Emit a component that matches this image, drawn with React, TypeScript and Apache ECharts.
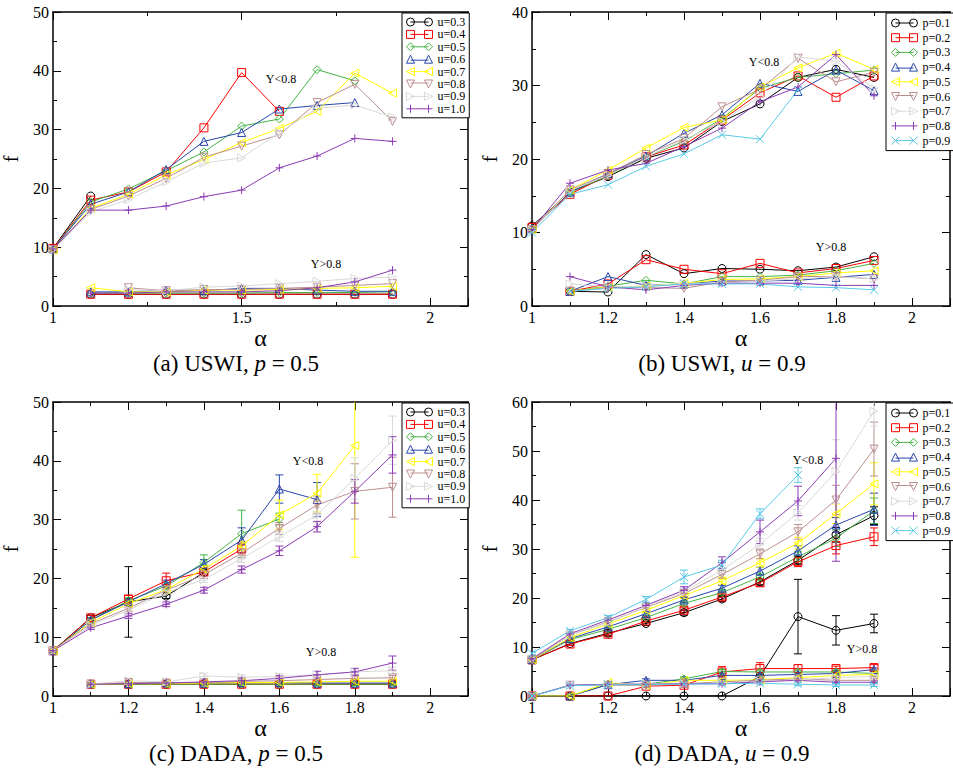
import React, { useEffect, useRef } from 'react';
import * as echarts from 'echarts';

const FONT = "'Liberation Serif', 'Times New Roman', serif";

const alphas = [1.0, 1.1, 1.2, 1.3, 1.4, 1.5, 1.6, 1.7, 1.8, 1.9];
const uLabels = ['u=0.3', 'u=0.4', 'u=0.5', 'u=0.6', 'u=0.7', 'u=0.8', 'u=0.9', 'u=1.0'];
const pLabels = ['p=0.1', 'p=0.2', 'p=0.3', 'p=0.4', 'p=0.5', 'p=0.6', 'p=0.7', 'p=0.8', 'p=0.9'];
const yMaxes = [50, 40, 50, 60];
const xIntervals = [0.5, 0.2, 0.2, 0.2];

const colors = ['#000000', '#ff0000', '#44b444', '#2846aa', '#ffff00', '#bc8f8f', '#d9d9d9', '#8c3cb4', '#5ac8e6'];

// (a) USWI, p = 0.5 — Y<0.8 branch
const aUpper: (number | null)[][] = [
  [9.8, 18.7, null, null, null, null, null, null, null, null],
  [9.8, 18.0, 19.4, 22.8, 30.3, 39.7, 33.1, null, null, null],
  [9.7, 17.7, 19.9, 23.0, 26.2, 30.6, 31.8, 40.2, 38.3, null],
  [9.7, 17.3, 19.4, 23.2, 28.0, 29.5, 33.5, 34.1, 34.6, null],
  [9.5, 16.6, 19.0, 22.3, 24.9, 27.8, 30.2, 33.1, 39.6, 36.2],
  [9.6, 16.4, 18.7, 21.7, 25.3, 27.2, 29.1, 34.6, 37.7, 31.4],
  [9.6, 16.0, 18.1, 21.1, 24.3, 25.2, 29.5, 33.6, 34.2, 32.1],
  [9.7, 16.3, 16.3, 17.0, 18.6, 19.7, 23.5, 25.5, 28.5, 28.0],
];
// (a) Y>0.8 branch
const aLower: (number | null)[][] = [
  [null, 2.0, 2.0, 2.0, 2.0, 2.0, 2.0, 2.0, 2.0, 2.0],
  [null, 2.0, 2.0, 2.0, 2.0, 2.0, 2.0, 2.0, 2.0, 2.0],
  [null, 2.2, 2.2, 2.2, 2.2, 2.2, 2.3, 2.3, 2.3, 2.4],
  [null, 2.4, 2.4, 2.7, 2.6, 3.0, 3.0, 2.7, 2.5, 2.5],
  [null, 3.1, 2.4, 2.4, 2.7, 2.7, 2.8, 3.0, 3.1, 3.35],
  [null, null, 3.1, 2.6, 2.8, 2.8, 3.0, 3.2, 3.5, 3.8],
  [null, null, 2.8, 2.6, 3.2, 3.4, 3.8, 4.2, 4.7, 4.9],
  [null, 2.2, 2.2, 2.4, 2.4, 2.4, 2.6, 3.1, 4.1, 6.1],
];

// (b) USWI, u = 0.9
const bUpper: (number | null)[][] = [
  [10.9, 15.5, 17.6, 20.1, 21.5, 25.1, 27.5, 31.1, 32.2, 31.1],
  [10.7, 15.2, 17.8, 20.3, 21.9, 25.3, 29.0, 31.3, 28.4, 31.3],
  [10.5, 15.5, 17.7, 20.3, 22.4, 25.5, 29.6, 31.1, 31.6, 32.1],
  [10.5, 15.5, 18.0, 20.4, 23.5, 26.0, 30.3, 29.2, 32.1, 29.3],
  [10.4, 15.8, 18.5, 21.5, 24.3, 25.3, 29.8, 32.4, 34.4, 32.2],
  [10.4, 15.8, 18.0, 20.6, 22.8, 27.1, 29.5, 33.7, 30.5, 31.8],
  [10.3, 15.7, 17.8, 20.3, 22.6, 25.1, 28.5, 33.9, 33.3, 29.6],
  [10.4, 16.7, 18.5, 19.4, 21.7, 24.2, 27.8, 29.8, 34.2, 28.6],
  [10.0, 15.2, 16.5, 19.0, 20.7, 23.3, 22.7, 29.4, null, null],
];
const bLower: (number | null)[][] = [
  [null, 2.0, 1.9, 7.0, 4.4, 5.1, 5.0, 4.8, 5.3, 6.7],
  [null, 2.0, 3.0, 6.3, 5.0, 4.4, 5.8, 4.5, 5.1, 6.2],
  [null, 2.0, 2.7, 3.5, 3.0, 4.0, 4.0, 4.2, 4.8, 5.8],
  [null, 2.0, 4.0, 2.8, 3.0, 3.4, 3.4, 3.5, 3.9, 4.3],
  [null, 2.0, 2.6, 2.7, 3.1, 3.6, 3.7, 4.0, 4.5, 4.8],
  [null, 2.0, 2.5, 2.5, 2.4, 3.3, 3.5, 4.0, 4.0, 3.7],
  [null, 3.0, 2.6, 2.7, 3.1, 3.1, 3.4, 3.7, 4.0, 3.7],
  [null, 4.0, 2.6, 2.2, 2.8, 3.1, 3.1, 3.1, 2.8, 2.8],
  [null, 2.0, 2.4, 2.6, 3.0, 3.0, 3.0, 2.6, 2.5, 2.2],
];

// (c) DADA, p = 0.5
const cUpper: (number | null)[][] = [
  [7.7, 13.3, 16.0, 17.0, 21.0, null, null, null, null, null],
  [7.7, 13.3, 16.5, 19.6, 21.1, 25.0, null, null, null, null],
  [7.7, 12.9, 16.2, 18.7, 22.7, 27.6, 30.1, null, null, null],
  [7.7, 12.9, 16.0, 19.1, 22.4, 26.5, 35.2, 33.4, null, null],
  [7.7, 12.5, 15.7, 18.1, 21.6, 25.5, 30.8, 34.5, 42.6, null],
  [7.7, 12.3, 14.9, 18.0, 20.6, 24.3, 28.5, 32.5, 34.8, 35.5],
  [7.7, 12.0, 14.6, 17.6, 19.8, 23.4, 27.1, 30.8, 37.0, 43.5],
  [7.7, 11.6, 13.6, 15.6, 18.0, 21.5, 24.7, 28.8, 34.8, 41.0],
];
const cUpperErr: number[][] = [
  [0.2, 0.4, 6.0, 0.4, 0.5, 0, 0, 0, 0, 0],
  [0.2, 0.4, 0.6, 1.3, 0.5, 1.0, 0, 0, 0, 0],
  [0.2, 0.4, 0.5, 0.6, 1.3, 4.0, 1.0, 0, 0, 0],
  [0.2, 0.4, 0.5, 0.6, 0.8, 2.1, 2.4, 2.9, 0, 0],
  [0.2, 0.4, 0.5, 0.6, 0.6, 0.8, 2.5, 3.2, 19.0, 0],
  [0.2, 0.4, 0.5, 0.5, 0.6, 0.8, 1.0, 1.5, 4.7, 5.1],
  [0.2, 0.4, 0.4, 0.5, 0.5, 0.7, 0.8, 1.2, 3.5, 4.1],
  [0.2, 0.3, 0.4, 0.4, 0.5, 0.6, 0.8, 0.9, 2.0, 3.1],
];
const cLower: (number | null)[][] = [
  [null, 2.0, 2.0, 2.0, 2.0, 2.0, 2.0, 2.0, 2.0, 2.0],
  [null, 2.0, 2.0, 2.0, 2.0, 2.0, 2.0, 2.0, 2.0, 2.0],
  [null, 2.0, 2.0, 2.0, 2.0, 2.0, 2.0, 2.0, 2.0, 2.0],
  [null, 2.1, 2.1, 2.3, 2.2, 2.3, 2.3, 2.2, 2.2, 2.2],
  [null, 2.0, 2.1, 2.1, 2.2, 2.3, 2.3, 2.4, 2.5, 2.5],
  [null, 2.0, 2.3, 2.2, 2.3, 2.5, 2.6, 2.8, 3.0, 3.1],
  [null, 2.0, 2.6, 2.4, 3.4, 3.2, 3.3, 3.6, 4.1, 4.3],
  [null, 2.0, 2.1, 2.2, 2.4, 2.6, 3.0, 3.6, 4.1, 5.6],
];
const cLowerErr: number[][] = [
  [0, 0.2, 0.2, 0.2, 0.2, 0.2, 0.2, 0.2, 0.2, 0.2],
  [0, 0.2, 0.2, 0.2, 0.2, 0.2, 0.2, 0.2, 0.2, 0.2],
  [0, 0.2, 0.2, 0.2, 0.2, 0.2, 0.2, 0.2, 0.2, 0.2],
  [0, 0.2, 0.2, 0.2, 0.2, 0.2, 0.2, 0.2, 0.2, 0.2],
  [0, 0.2, 0.2, 0.2, 0.2, 0.3, 0.3, 0.3, 0.3, 0.3],
  [0, 0.2, 0.3, 0.3, 0.3, 0.3, 0.3, 0.4, 0.4, 0.4],
  [0, 0.2, 0.3, 0.3, 0.5, 0.4, 0.5, 0.6, 0.5, 0.6],
  [0, 0.2, 0.3, 0.3, 0.4, 0.4, 0.5, 0.6, 0.6, 1.2],
];

// (d) DADA, u = 0.9
const dUpper: (number | null)[][] = [
  [7.4, 10.7, 12.8, 14.8, 17.0, 19.8, 23.3, 27.7, 32.9, 36.8],
  [7.4, 10.6, 12.6, 15.3, 17.5, 20.2, 23.1, 27.4, 30.7, 32.5],
  [7.4, 11.5, 13.6, 16.0, 18.9, 21.1, 24.3, 28.4, 32.2, 37.8],
  [7.4, 11.7, 14.1, 16.8, 19.6, 22.0, 25.5, 29.6, 34.9, 38.1],
  [7.4, 11.9, 14.7, 17.5, 20.5, 23.5, 27.2, 31.2, 37.2, 43.3],
  [7.4, 12.4, 15.1, 18.1, 20.9, 24.8, 29.0, 33.5, 40.0, 50.4],
  [7.6, 12.4, 15.0, 18.2, 21.3, 25.7, 31.0, 37.4, 45.8, 58.1],
  [7.6, 12.7, 15.5, 18.5, 21.6, 27.2, 33.5, 39.8, 48.5, null],
  [8.7, 13.3, 16.0, 19.7, 24.3, 26.7, 37.2, 45.1, null, null],
];
const dUpperErr: number[][] = [
  [0.2, 0.3, 0.4, 0.4, 0.5, 0.5, 0.6, 0.8, 1.5, 1.8],
  [0.2, 0.3, 0.4, 0.4, 0.5, 0.6, 0.7, 1.0, 1.7, 1.8],
  [0.2, 0.3, 0.4, 0.4, 0.5, 0.6, 0.8, 1.0, 1.7, 2.6],
  [0.2, 0.3, 0.4, 0.5, 0.5, 0.6, 0.8, 1.0, 1.5, 3.3],
  [0.2, 0.3, 0.4, 0.5, 0.6, 0.7, 0.9, 1.2, 2.0, 4.3],
  [0.2, 0.3, 0.4, 0.5, 0.6, 0.8, 1.0, 1.5, 3.0, 5.5],
  [0.2, 0.3, 0.4, 0.5, 0.7, 0.9, 1.2, 1.5, 6.5, 3.0],
  [0.2, 0.3, 0.4, 0.5, 0.7, 1.2, 2.4, 3.0, 21.0, 0],
  [0.2, 0.3, 0.4, 0.6, 1.4, 1.0, 1.0, 1.5, 0, 0],
];
const dLower: (number | null)[][] = [
  [0, 0, 0, 0, 0, 0, 4.0, 16.2, 13.4, 14.8],
  [0, 0, 0, 2.0, 2.2, 4.9, 5.6, 5.6, 5.6, 5.8],
  [0, 0, 2.4, 2.4, 3.5, 5.0, 4.9, 4.9, 4.9, 4.6],
  [0, 0, 2.3, 3.2, 3.2, 4.2, 4.2, 4.4, 4.6, 5.4],
  [0, 0, 2.7, 2.2, 3.2, 3.2, 3.3, 3.75, 4.2, 4.4],
  [0, 2.2, 2.2, 2.2, 2.5, 2.9, 3.2, 3.5, 3.2, 3.2],
  [0, 2.2, 2.4, 2.5, 2.5, 2.6, 3.0, 3.3, 3.75, 4.0],
  [0, 2.2, 2.4, 2.4, 2.5, 2.5, 2.9, 3.2, 2.8, 2.8],
  [0, 2.1, 2.3, 2.3, 2.4, 2.5, 2.6, 2.4, 2.25, 2.25],
];
const dLowerErr: number[][] = [
  [0, 0, 0, 0, 0, 0, 0.4, 7.6, 3.0, 1.9],
  [0, 0, 0, 0.3, 0.4, 1.1, 1.2, 0.8, 0.5, 0.6],
  [0, 0, 0.3, 0.3, 0.4, 0.4, 0.4, 0.4, 0.4, 0.4],
  [0, 0, 0.3, 0.3, 0.3, 0.3, 0.3, 0.3, 0.3, 0.3],
  [0, 0, 0.3, 0.3, 0.3, 0.3, 0.3, 0.3, 0.3, 0.3],
  [0, 0.2, 0.3, 0.3, 0.3, 0.3, 0.3, 0.3, 0.3, 0.3],
  [0, 0.2, 0.3, 0.3, 0.3, 0.3, 0.3, 0.3, 0.3, 0.3],
  [0, 0.2, 0.3, 0.3, 0.3, 0.3, 0.3, 0.3, 0.3, 0.3],
  [0, 0.2, 0.3, 0.3, 0.3, 0.3, 0.3, 0.3, 0.3, 0.3],
];

const captions = [
  { pre: '(a) USWI, ', v: 'p', post: ' = 0.5' },
  { pre: '(b) USWI, ', v: 'u', post: ' = 0.9' },
  { pre: '(c) DADA, ', v: 'p', post: ' = 0.5' },
  { pre: '(d) DADA, ', v: 'u', post: ' = 0.9' },
];

const symbols = [
  'circle',
  'rect',
  'diamond',
  'triangle',
  'path://M8,0L0,4L8,8Z',
  'path://M0,0L8,0L4,8Z',
  'path://M0,0L8,4L0,8Z',
  'path://M0,4H8M4,0V8',
  'path://M0,0L8,8M0,8L8,0',
];
const legendIcons = [
  'path://M0,4A4,4 0 1 1 8,4A4,4 0 1 1 0,4Z M4,4H22 M18,4A4,4 0 1 1 26,4A4,4 0 1 1 18,4Z',
  'path://M0,0H8V8H0Z M4,4H22 M18,0H26V8H18Z',
  'path://M0,4L4,0L8,4L4,8Z M4,4H22 M18,4L22,0L26,4L22,8Z',
  'path://M0,8L4,0L8,8Z M4,5H22 M18,8L22,0L26,8Z',
  'path://M8,0L0,4L8,8Z M4,4H22 M26,0L18,4L26,8Z',
  'path://M0,0L8,0L4,8Z M4,3H22 M18,0L26,0L22,8Z',
  'path://M0,0L8,4L0,8Z M4,4H22 M18,0L26,4L18,8Z',
  'path://M0,4H26 M4,0V8 M22,0V8',
  'path://M0,0L8,8 M0,8L8,0 M4,4H22 M18,0L26,8 M18,8L26,0',
];

const grids = [
  { left: 47, top: 12, width: 421, height: 294 },
  { left: 532, top: 12, width: 420, height: 294 },
  { left: 47, top: 402, width: 421, height: 294 },
  { left: 532, top: 402, width: 420, height: 294 },
];

function fmtX(v: number) {
  if (v > 2.05) return '';
  return String(parseFloat(v.toFixed(2)));
}

function xAxis(g: number, pos: 'bottom' | 'top') {
  const bottom = pos === 'bottom';
  return {
    type: 'value',
    gridIndex: g,
    position: pos,
    min: 1,
    max: 2.1,
    interval: xIntervals[g],
    axisLine: { show: true, onZero: false, lineStyle: { color: '#000', width: 1.5 } },
    axisTick: { show: true, inside: true, length: 8, lineStyle: { color: '#000', width: 1 } },
    minorTick: { show: true, splitNumber: 2, length: 4, lineStyle: { color: '#000', width: 1 } },
    splitLine: { show: false },
    minorSplitLine: { show: false },
    axisLabel: bottom
      ? { show: true, margin: 3, fontSize: 16, color: '#000', fontFamily: FONT, formatter: fmtX }
      : { show: false },
    name: bottom ? 'α' : '',
    nameLocation: 'middle',
    nameGap: 14,
    nameTextStyle: { fontSize: 24, color: '#000', fontFamily: FONT },
  };
}

function yAxis(g: number, pos: 'left' | 'right') {
  const left = pos === 'left';
  return {
    type: 'value',
    gridIndex: g,
    position: pos,
    min: 0,
    max: yMaxes[g],
    interval: 10,
    axisLine: { show: true, onZero: false, lineStyle: { color: '#000', width: 1.5 } },
    axisTick: { show: true, inside: true, length: 8, lineStyle: { color: '#000', width: 1 } },
    minorTick: { show: true, splitNumber: 2, length: 4, lineStyle: { color: '#000', width: 1 } },
    splitLine: { show: false },
    minorSplitLine: { show: false },
    axisLabel: left
      ? { show: true, margin: 4, fontSize: 16, color: '#000', fontFamily: FONT }
      : { show: false },
    name: left ? 'f' : '',
    nameLocation: 'middle',
    nameGap: 32,
    nameRotate: 90,
    nameTextStyle: { fontSize: 20, color: '#000', fontFamily: FONT },
  };
}

function lineSeries(g: number, labels: string[], rows: (number | null)[][]) {
  return rows.map((row, i) => ({
    type: 'line',
    name: labels[i],
    xAxisIndex: 2 * g,
    yAxisIndex: 2 * g,
    data: alphas.map((a, k) => [a, row[k]]).filter((d) => d[1] !== null),
    symbol: symbols[i],
    symbolSize: 8,
    showSymbol: true,
    showAllSymbol: true,
    lineStyle: { color: colors[i], width: 1 },
    itemStyle: { color: 'rgba(0,0,0,0)', borderColor: colors[i], borderWidth: 1 },
    emphasis: { disabled: true },
    silent: true,
  }));
}

function errSeries(g: number, rows: (number | null)[][], errs: number[][]) {
  return rows.map((row, i) => {
    const color = colors[i];
    const data: number[][] = [];
    alphas.forEach((a, k) => {
      const v = row[k];
      const e = errs[i][k];
      if (v !== null && e > 0) data.push([a, v - e, v + e]);
    });
    return {
      type: 'custom',
      xAxisIndex: 2 * g,
      yAxisIndex: 2 * g,
      clip: true,
      silent: true,
      data,
      encode: { x: 0, y: [1, 2] },
      renderItem: (params: any, api: any) => {
        const x = api.value(0);
        const top = api.coord([x, api.value(2)]);
        const bot = api.coord([x, api.value(1)]);
        const w = 4;
        const st = { stroke: color, lineWidth: 1 };
        return {
          type: 'group',
          children: [
            { type: 'line', shape: { x1: top[0], y1: top[1], x2: bot[0], y2: bot[1] }, style: st },
            { type: 'line', shape: { x1: top[0] - w, y1: top[1], x2: top[0] + w, y2: top[1] }, style: st },
            { type: 'line', shape: { x1: bot[0] - w, y1: bot[1], x2: bot[0] + w, y2: bot[1] }, style: st },
          ],
        };
      },
    };
  });
}

function legend(labels: string[], left: number, top: number, gap: number, pad: number[]) {
  return {
    orient: 'vertical',
    left,
    top,
    padding: pad,
    itemGap: gap,
    itemWidth: 26,
    itemHeight: 8,
    backgroundColor: '#fff',
    borderColor: '#000',
    borderWidth: 1,
    borderRadius: 0,
    selectedMode: false,
    z: 20,
    textStyle: { fontSize: 12, lineHeight: 12, color: '#000', fontFamily: FONT },
    data: labels.map((n, i) => ({
      name: n,
      icon: legendIcons[i],
      itemStyle: { color: 'rgba(0,0,0,0)', borderColor: colors[i], borderWidth: 1 },
    })),
  };
}

const annotations = [
  { t: 'Y<0.8', x: 281, y: 79 },
  { t: 'Y>0.8', x: 326, y: 264 },
  { t: 'Y<0.8', x: 764, y: 62 },
  { t: 'Y>0.8', x: 831, y: 247 },
  { t: 'Y<0.8', x: 308, y: 461 },
  { t: 'Y>0.8', x: 321, y: 652 },
  { t: 'Y<0.8', x: 808, y: 460 },
  { t: 'Y>0.8', x: 862, y: 649 },
];
const captionPos = [
  { x: 236, y: 363 },
  { x: 722, y: 363 },
  { x: 236, y: 753 },
  { x: 722, y: 753 },
];

function buildOption() {
  const xAxes: any[] = [];
  const yAxes: any[] = [];
  for (let g = 0; g < 4; g++) {
    xAxes.push(xAxis(g, 'bottom'), xAxis(g, 'top'));
    yAxes.push(yAxis(g, 'left'), yAxis(g, 'right'));
  }
  const series: any[] = [
    ...lineSeries(0, uLabels, aUpper),
    ...lineSeries(0, uLabels, aLower),
    ...lineSeries(1, pLabels, bUpper),
    ...lineSeries(1, pLabels, bLower),
    ...errSeries(2, cUpper, cUpperErr),
    ...errSeries(2, cLower, cLowerErr),
    ...lineSeries(2, uLabels, cUpper),
    ...lineSeries(2, uLabels, cLower),
    ...errSeries(3, dUpper, dUpperErr),
    ...errSeries(3, dLower, dLowerErr),
    ...lineSeries(3, pLabels, dUpper),
    ...lineSeries(3, pLabels, dLower),
  ];
  const graphic: any[] = [
    ...annotations.map((a) => ({
      type: 'text',
      x: a.x,
      y: a.y,
      z: 30,
      style: {
        text: a.t,
        fontSize: 12,
        fontFamily: FONT,
        fill: '#000',
        textAlign: 'center',
        textVerticalAlign: 'middle',
      },
    })),
    ...captions.map((c, i) => ({
      type: 'text',
      x: captionPos[i].x,
      y: captionPos[i].y,
      z: 30,
      style: {
        text: c.pre + '{i|' + c.v + '}' + c.post,
        fontSize: 23,
        fontFamily: FONT,
        fill: '#000',
        textAlign: 'center',
        textVerticalAlign: 'middle',
        rich: {
          i: { fontStyle: 'italic', fontSize: 23, fontFamily: FONT, fill: '#000' },
        },
      },
    })),
  ];
  return {
    animation: false,
    backgroundColor: '#fff',
    textStyle: { fontFamily: FONT },
    grid: grids,
    xAxis: xAxes,
    yAxis: yAxes,
    legend: [
      legend(uLabels, 402, 13, 0.4, [3, 4, 3, 4]),
      legend(pLabels, 886, 13, 2.7, [4, 4, 4, 5]),
      legend(uLabels, 402, 403, 0.4, [3, 4, 3, 4]),
      legend(pLabels, 886, 403, 2.7, [4, 4, 4, 5]),
    ],
    series,
    graphic,
  };
}

export default function App() {
  const ref = useRef<HTMLDivElement>(null);
  useEffect(() => {
    if (!ref.current) return;
    const chart = echarts.init(ref.current, null, { renderer: 'svg' });
    chart.setOption(buildOption() as any);
    return () => chart.dispose();
  }, []);
  return (
    <div
      ref={ref}
      style={{ position: 'absolute', left: 0, top: 0, width: 953, height: 772 }}
    />
  );
}
